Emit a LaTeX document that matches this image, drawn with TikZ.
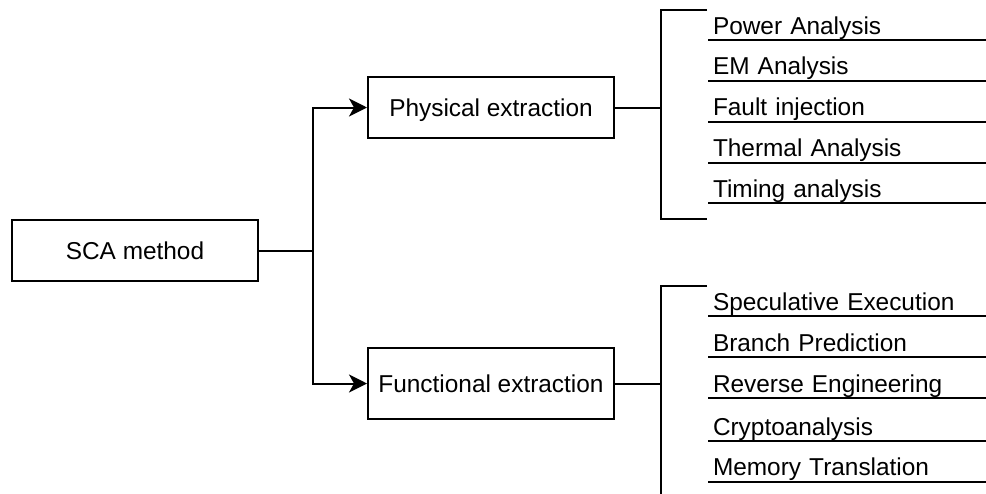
\documentclass[tikz,border=0pt]{standalone}
\usepackage{fontspec}
\setmainfont{Liberation Sans}
\usetikzlibrary{arrows.meta}
\begin{document}
\begin{tikzpicture}[x=1pt,y=-1pt,
  line width=2pt,
  every node/.style={font=\fontsize{24.4}{29}\selectfont},
  box/.style={draw, line width=2pt, minimum width=246pt, inner sep=0pt, align=center,
    text height=18pt, text depth=0pt},
  item/.style={anchor=south west, inner xsep=4pt, inner ysep=5pt, text depth=0pt,
    text width=270pt, align=left},
  uline/.style={line width=2pt},
  link/.style={line width=2pt},
  arrow/.style={link, -{Stealth[length=18pt, width=18pt, inset=5pt]}}
]
\useasboundingbox (0,0) rectangle (986,493);

% main boxes
\node[box, minimum height=61pt] (sca) at (135,250.5) {SCA method};
\node[box, minimum height=61.5pt] (phys) at (491,107.5) {Physical extraction};
\node[box, minimum height=71.5pt] (func) at (491,383.5) {Functional extraction};

% split from the root to both branches
\coordinate (split) at (313,250.5);
\coordinate (splitT) at (313,107.5);
\coordinate (splitB) at (313,383.5);
\draw[link] (sca.east) -- (split);
\draw[arrow] (split) -- (splitT) -- (phys.west);
\draw[arrow] (split) -- (splitB) -- (func.west);

% physical extraction methods
\node[item] (p1) at (708,40) {Power Analysis};
\node[item] (p2) at (708,80.7) {EM Analysis};
\node[item] (p3) at (708,121.7) {Fault injection};
\node[item] (p4) at (708,162.7) {Thermal Analysis};
\node[item] (p5) at (708,203.3) {Timing analysis};
\foreach \n in {p1,p2,p3,p4,p5}
  \draw[uline] (\n.south west) -- (\n.south east);

% functional extraction methods
\node[item] (f1) at (708,316) {Speculative Execution};
\node[item] (f2) at (708,357.3) {Branch Prediction};
\node[item] (f3) at (708,398) {Reverse Engineering};
\node[item] (f4) at (708,441) {Cryptoanalysis};
\node[item] (f5) at (708,481.7) {Memory Translation};
\foreach \n in {f1,f2,f3,f4,f5}
  \draw[uline] (\n.south west) -- (\n.south east);

% brackets grouping each list
\coordinate (pb) at (661,107.5);
\coordinate (pbT) at (661,10);
\coordinate (pbB) at (661,219);
\draw[link] (phys.east) -- (pb);
\draw[link] ([xshift=-1pt]p1.south west |- pbT) -- (pbT) -- (pbB) -- ([xshift=-1pt]p1.south west |- pbB);

\coordinate (fb) at (661,383.5);
\coordinate (fbT) at (661,286);
\coordinate (fbB) at (661,500);
\draw[link] (func.east) -- (fb);
\draw[link] ([xshift=-1pt]f1.south west |- fbT) -- (fbT) -- (fbB);
\end{tikzpicture}
\end{document}
